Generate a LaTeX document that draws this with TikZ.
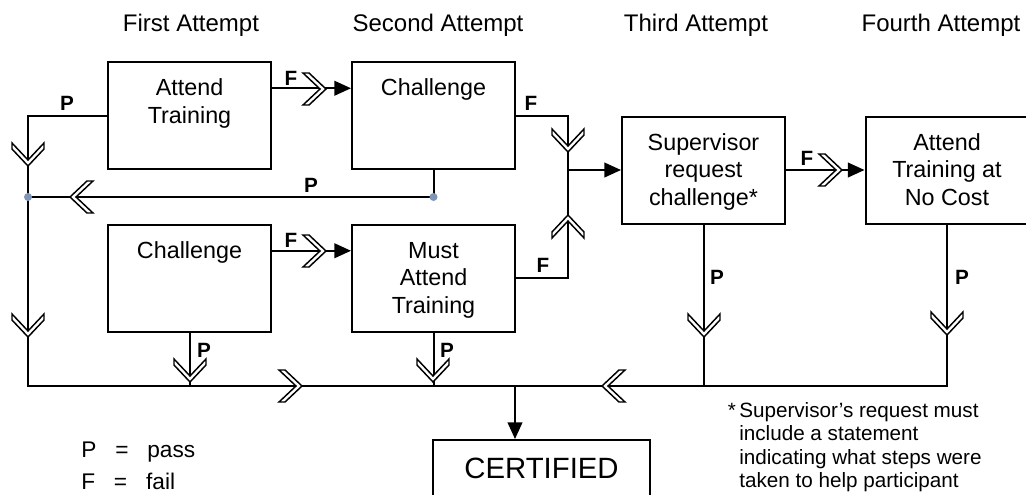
\documentclass[tikz,border=0pt]{standalone}
\usepackage{fontspec}
\setmainfont{Liberation Sans}
\usetikzlibrary{arrows.meta,calc}

\definecolor{dotblue}{RGB}{128,150,185}

\tikzset{
  box/.style={draw, line width=1.5pt, minimum width=122.25pt, minimum height=80.25pt,
    inner sep=0pt, font=\fontsize{17.5}{20.5}\selectfont},
  conn/.style={line width=1.5pt},
  tip/.style={-{Triangle[length=12.5pt,width=11pt]}},
  lbl/.style={font=\fontsize{15.5}{15.5}\selectfont\bfseries, inner sep=0pt},
  ttl/.style={font=\fontsize{18}{18}\selectfont, anchor=base, inner sep=0pt},
  chevline/.style={draw, fill=white, line width=1.1pt, line join=miter},
  chev/.pic={\path[chevline] (0,0) -- (-17,16) -- (-23,16) -- (-6,0) -- (-23,-16) -- (-17,-16) -- cycle;}
}
\newcommand{\boxtext}[1]{\parbox[c][78pt][t]{120pt}{\centering\vspace*{10pt}\strut#1}}

\begin{document}
\begin{tikzpicture}[x=0.75pt,y=-0.75pt]
    \useasboundingbox (0,0) rectangle (1026,494);

    \node [ttl] (t1) at (191,31) {First Attempt};
    \node [ttl] (t2) at (438,31) {Second Attempt};
    \node [ttl] (t3) at (696,31) {Third Attempt};
    \node [ttl] (t4) at (941,31) {Fourth Attempt};

    \node [box] (at1) at (189.5,115.5) {\boxtext{Attend\\Training}};
    \node [box] (ch2) at (433.5,115.5) {\boxtext{Challenge}};
    \node [box] (ch1) at (189.5,278) {\boxtext{Challenge}};
    \node [box] (mat) at (433.5,278) {\boxtext{Must\\Attend\\Training}};
    \node [box] (src) at (703.5,170) {\boxtext{Supervisor\\request\\challenge*}};
    \node [box] (nc) at (947,170) {\boxtext{Attend\\Training at\\No Cost}};
    \node [draw, line width=1.5pt, minimum width=162.75pt, minimum height=42pt, inner sep=0pt,
      font=\fontsize{22}{22}\selectfont] (cert) at (541.5,468) {CERTIFIED};

    \coordinate (jl) at (28,197);
    \coordinate (jr) at (ch2.south |- jl);
    \coordinate (bl) at (28,386);
    \coordinate (jn) at (568,170);
    \coordinate (jc) at (515,386);
    \coordinate (a1) at ($(at1.north east)!.25!(at1.south east)$);
    \coordinate (a2) at ($(ch1.north east)!.25!(ch1.south east)$);

    \draw [conn] (at1.west) -| (bl) -- (bl -| nc.south) -- (nc.south);
    \draw [conn] (ch2.south) -- (jr) -- (jl);
    \draw [conn] (ch1.south) -- (ch1.south |- bl);
    \draw [conn] (mat.south) -- (mat.south |- bl);
    \draw [conn] (src.south) -- (src.south |- bl);
    \draw [conn, tip] (jc) -- (jc |- cert.north);

    \draw [conn] (ch2.east) -| (jn);
    \draw [conn] (mat.east) -| (jn);
    \draw [conn, tip] (jn) -- (src.west);
    \draw [conn, tip] (src.east) -- (nc.west);
    \draw [conn, tip] (a1) -- (a1 -| ch2.west);
    \draw [conn, tip] (a2) -- (a2 -| mat.west);

    \fill [dotblue] (jl) circle [radius=3pt];
    \fill [dotblue] (jr) circle [radius=3pt];

    \pic [rotate=-90] at (28,166) {chev};
    \pic [rotate=-90] at (28,337) {chev};
    \pic [rotate=180] at (70,197) {chev};
    \pic at (326,89) {chev};
    \pic at (326,251) {chev};
    \pic [rotate=-90] at (568,152) {chev};
    \pic [rotate=90] at (568,215) {chev};
    \pic at (842,170) {chev};
    \pic [rotate=-90] at (704,337) {chev};
    \pic [rotate=-90] at (947,335) {chev};
    \pic [rotate=-90] at (190,382) {chev};
    \pic [rotate=-90] at (433,382) {chev};
    \pic at (302,386) {chev};
    \pic [rotate=180] at (602,386) {chev};

    \node [lbl] (p1) at (67,103) {P};
    \node [lbl] (f1) at (291,78) {F};
    \node [lbl] (p2) at (311,185) {P};
    \node [lbl] (f2) at (291,240) {F};
    \node [lbl] (f3) at (531,103) {F};
    \node [lbl] (f4) at (543,265) {F};
    \node [lbl] (f5) at (807,158) {F};
    \node [lbl] (p3) at (717,277) {P};
    \node [lbl] (p4) at (962,277) {P};
    \node [lbl] (p5) at (204,350) {P};
    \node [lbl] (p6) at (447,350) {P};

    \node [anchor=north west, inner sep=0pt, align=left, font=\fontsize{17}{24}\selectfont]
      (key) at (81,441.6) {P\ \ \ =\ \ \ pass\\F\ \ \ =\ \ \ fail};
    \node [anchor=north west, inner sep=0pt, align=left, font=\fontsize{15.5}{17.6}\selectfont]
      (note) at (739,402) {\llap{*\,}Supervisor’s request must\\include a statement\\indicating what steps were\\taken to help participant};
\end{tikzpicture}
\end{document}
